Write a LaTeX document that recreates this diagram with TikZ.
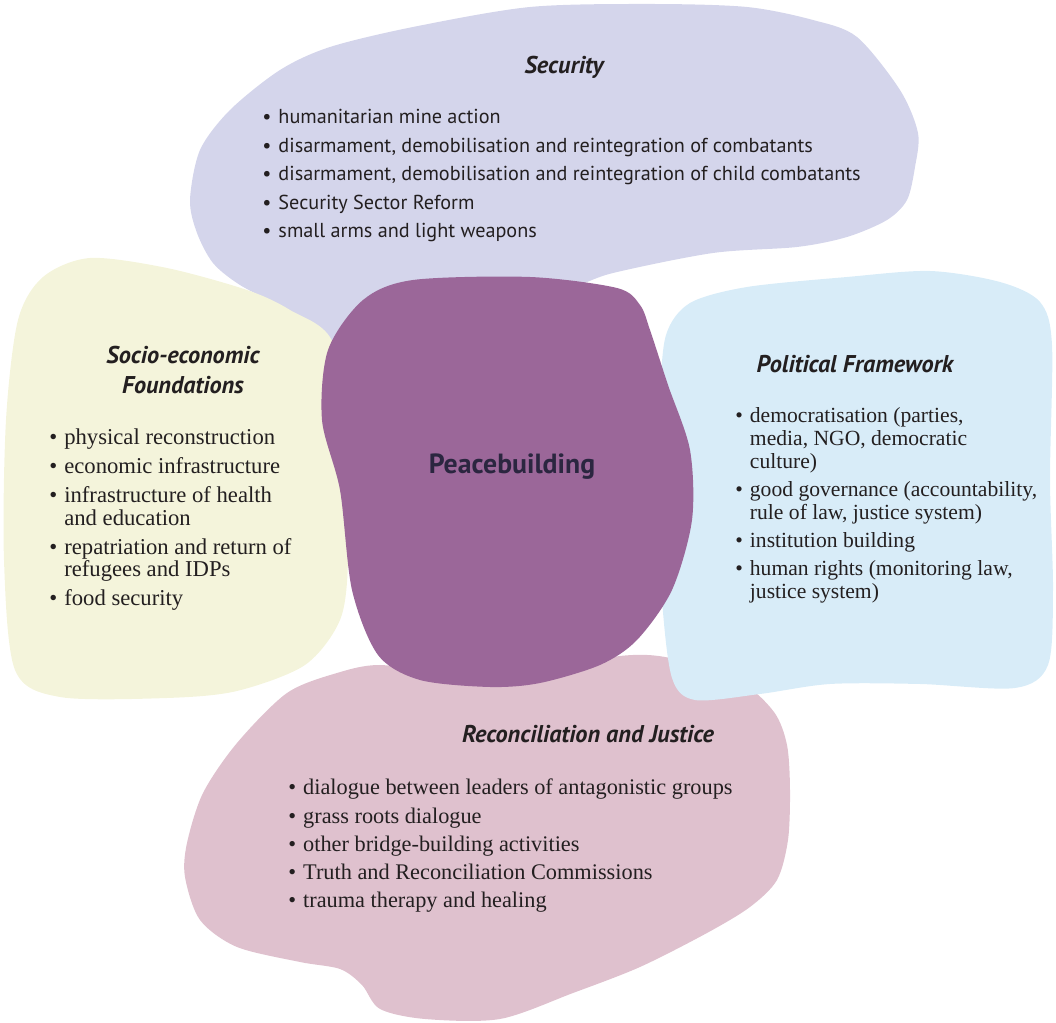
\documentclass[tikz,border=0pt]{standalone}
\usepackage{fontspec}
\setmainfont{Liberation Serif}
\setsansfont{PT Sans}
\usepackage{tikz}
\usetikzlibrary{positioning}
\definecolor{secfill}{HTML}{D4D5EB}
\definecolor{socfill}{HTML}{F4F4DB}
\definecolor{polfill}{HTML}{D8ECF8}
\definecolor{recfill}{HTML}{DFC1CE}
\definecolor{peacefill}{HTML}{9B6799}
\definecolor{inkdark}{HTML}{231F20}
\definecolor{inkpeace}{HTML}{2B2640}

\begin{document}
\begin{tikzpicture}[
    x=0.02cm, y=-0.02cm,
    title/.style={
		inner sep=0,
		text=inkdark,
		align=center,
		font=\sffamily\bfseries\itshape\fontsize{13.8}{17}\selectfont
	},
	items/.style={
		anchor=base west,
		inner sep=0,
		text=inkdark,
		font=\fontsize{12.3}{13}\selectfont
	},
	secitems/.style={
		items,
		font=\sffamily\fontsize{11.5}{16.2}\selectfont
	}
  ]
    \useasboundingbox (0,0) rectangle (1056,1023);

    % We start by placing the blobs
    \fill [secfill] plot [smooth cycle] coordinates {
      (413,27) (530,7) (650,4) (747,7) (813,20) (857,37) (900,90) (918,133)
      (915,167) (907,200) (887,220) (847,237) (797,247) (713,253) (613,273)
      (560,290) (450,300) (335,345) (290,312) (240,285) (213,263) (197,233)
      (190,200) (200,150) (230,110) (280,70) (330,47)};
    \fill [recfill] plot [smooth cycle] coordinates {
      (337,673) (287,693) (237,743) (203,793) (187,843) (185,877) (200,920)
      (237,947) (300,962) (340,969) (362,985) (380,1009) (425,1019)
      (500,1019) (573,993) (640,967) (707,933) (750,907) (777,880) (788,840)
      (790,790) (787,745) (774,712) (740,682) (670,658) (620,656) (540,672)
      (450,674) (380,665)};
    \fill [socfill] plot [smooth cycle] coordinates {
      (43,277) (90,258) (167,268) (247,290) (290,310) (333,343) (345,450)
      (348,560) (340,620) (305,665) (237,691) (167,698) (60,697) (15,670)
      (4,560) (6,420) (18,320)};
    \fill [polfill] plot [smooth cycle] coordinates {
      (747,287) (847,277) (930,271) (1000,282) (1040,302) (1052,345)
      (1050,480) (1053,590) (1048,665) (1015,688) (920,684) (830,684)
      (760,694) (695,700) (672,678) (662,600) (658,500) (660,400) (666,335)
      (690,303)};
    \fill [peacefill] plot [smooth cycle] coordinates {
      (363,300) (413,280) (530,277) (617,288) (640,305) (650,330) (668,385)
      (690,450) (692,520) (672,590) (637,640) (600,665) (540,683) (490,687)
      (420,680) (378,655) (352,590) (340,490) (322,420) (328,350)};

    % Centre
    \node [inner sep=0, text=inkpeace, font=\sffamily\bfseries\fontsize{15.8}{18}\selectfont]
      (peace) at (512,467) {Peacebuilding};

    % Security
    \node [title] (sectitle) at (564,67) {Security};
    \node [secitems] (seclist) at (262,124)
 {%
 \begin{tabular}[t]{@{}l@{\hspace{4pt}}l@{}}
  \textbullet & humanitarian mine action\\
  \textbullet & disarmament, demobilisation and reintegration of combatants\\
  \textbullet & disarmament, demobilisation and reintegration of child combatants\\
  \textbullet & Security Sector Reform\\
  \textbullet & small arms and light weapons
 \end{tabular}
 };

    % Socio-economic Foundations
    \node [title] (soctitle) at (183,370) {Socio-economic\\Foundations};
    \node [items, font=\fontsize{12.9}{12.8}\selectfont] (soclist) at (49,445)
 {%
 \begin{tabular}[t]{@{}l@{\hspace{4pt}}l@{}}
  \textbullet & physical reconstruction\\[3.5pt]
  \textbullet & economic infrastructure\\[3.5pt]
  \textbullet & infrastructure of health\\
              & and education\\[3.5pt]
  \textbullet & repatriation and return of\\
              & refugees and IDPs\\[3.5pt]
  \textbullet & food security
 \end{tabular}
 };

    % Political Framework
    \node [title] (poltitle) at (855,364) {Political Framework};
    \node [items] (pollist) at (735,423)
 {%
 \begin{tabular}[t]{@{}l@{\hspace{4pt}}l@{}}
  \textbullet & democratisation (parties,\\
              & media, NGO, democratic\\
              & culture)\\[3pt]
  \textbullet & good governance (accountability,\\
              & rule of law, justice system)\\[3pt]
  \textbullet & institution building\\[3pt]
  \textbullet & human rights (monitoring law,\\
              & justice system)
 \end{tabular}
 };

    % Reconciliation and Justice
    \node [title] (rectitle) at (588,734) {Reconciliation and Justice};
    \node [items, font=\fontsize{12.7}{16}\selectfont] (reclist) at (288,795)
 {%
 \begin{tabular}[t]{@{}l@{\hspace{4pt}}l@{}}
  \textbullet & dialogue between leaders of antagonistic groups\\
  \textbullet & grass roots dialogue\\
  \textbullet & other bridge-building activities\\
  \textbullet & Truth and Reconciliation Commissions\\
  \textbullet & trauma therapy and healing
 \end{tabular}
 };

\end{tikzpicture}
\end{document}
